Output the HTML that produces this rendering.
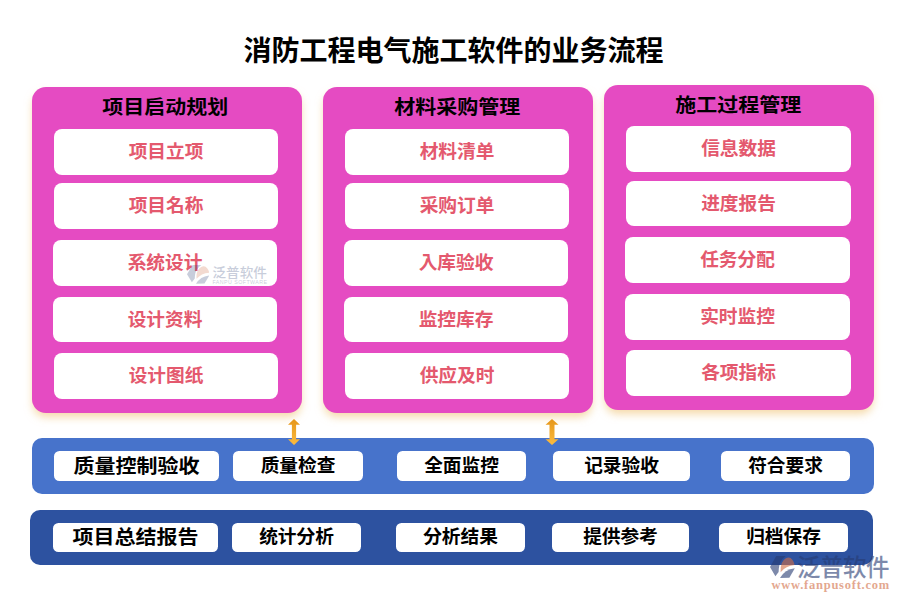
<!DOCTYPE html>
<html lang="zh-CN">
<head>
<meta charset="utf-8">
<title>消防工程电气施工软件的业务流程</title>
<style>
html,body{margin:0;padding:0;}
body{width:900px;height:600px;background:#fff;position:relative;overflow:hidden;font-family:"Liberation Sans","Noto Sans CJK JP",sans-serif;font-weight:bold;-webkit-locale:"ja";}
.abs{position:absolute;box-sizing:border-box;}
.title{left:0;width:900px;text-align:center;color:#000;white-space:nowrap;}
.panel{background:#E54BC2;border-radius:14px;box-shadow:0 5px 9px -1px rgba(238,192,110,0.6);}
.ptitle{text-align:center;color:#000;white-space:nowrap;}
.item{background:#fff;border-radius:8px;color:#E4596E;}
.rbox{background:#fff;border-radius:5.5px;color:#000;}
.t{position:absolute;left:0;right:0;text-align:center;white-space:nowrap;}
.row{border-radius:10px;}
</style>
</head>
<body>
<div class="abs title" style="top:33px;height:38px;line-height:38px;font-size:28px;left:3.5px;">消防工程电气施工软件的业务流程</div>
<div class="abs panel" style="left:32px;top:87px;width:270px;height:326px;"></div>
<div class="abs ptitle" style="left:15.3px;top:92.5px;width:300px;height:30px;line-height:30px;font-size:21px;transform:scaleY(0.91);">项目启动规划</div>
<div class="abs item" style="left:54px;top:129px;width:224px;height:46px;font-size:18.7px;"><span class="t" style="top:0px;height:46px;line-height:46px;">项目立项</span></div>
<div class="abs item" style="left:54px;top:183px;width:224px;height:46px;font-size:18.7px;"><span class="t" style="top:0px;height:46px;line-height:46px;">项目名称</span></div>
<div class="abs item" style="left:53px;top:240px;width:224px;height:46px;font-size:18.7px;"><span class="t" style="top:0px;height:46px;line-height:46px;">系统设计</span></div>
<div class="abs item" style="left:53px;top:297px;width:224px;height:45px;font-size:18.7px;"><span class="t" style="top:0px;height:45px;line-height:45px;">设计资料</span></div>
<div class="abs item" style="left:54px;top:353px;width:224px;height:46px;font-size:18.7px;"><span class="t" style="top:0px;height:46px;line-height:46px;">设计图纸</span></div>
<div class="abs panel" style="left:323px;top:87px;width:270px;height:326px;"></div>
<div class="abs ptitle" style="left:307.3px;top:92.5px;width:300px;height:30px;line-height:30px;font-size:21px;transform:scaleY(0.91);">材料采购管理</div>
<div class="abs item" style="left:345px;top:129px;width:224px;height:46px;font-size:18.7px;"><span class="t" style="top:0px;height:46px;line-height:46px;">材料清单</span></div>
<div class="abs item" style="left:345px;top:183px;width:224px;height:46px;font-size:18.7px;"><span class="t" style="top:0px;height:46px;line-height:46px;">采购订单</span></div>
<div class="abs item" style="left:344px;top:240px;width:224px;height:46px;font-size:18.7px;"><span class="t" style="top:0px;height:46px;line-height:46px;">入库验收</span></div>
<div class="abs item" style="left:344px;top:297px;width:224px;height:45px;font-size:18.7px;"><span class="t" style="top:0px;height:45px;line-height:45px;">监控库存</span></div>
<div class="abs item" style="left:345px;top:353px;width:224px;height:46px;font-size:18.7px;"><span class="t" style="top:0px;height:46px;line-height:46px;">供应及时</span></div>
<div class="abs panel" style="left:604px;top:85px;width:270px;height:325px;"></div>
<div class="abs ptitle" style="left:588.3px;top:90.5px;width:300px;height:30px;line-height:30px;font-size:21px;transform:scaleY(0.91);">施工过程管理</div>
<div class="abs item" style="left:626px;top:126px;width:225px;height:46px;font-size:18.7px;"><span class="t" style="top:0px;height:46px;line-height:46px;">信息数据</span></div>
<div class="abs item" style="left:626px;top:181px;width:225px;height:45px;font-size:18.7px;"><span class="t" style="top:0px;height:45px;line-height:45px;">进度报告</span></div>
<div class="abs item" style="left:625px;top:237px;width:225px;height:46px;font-size:18.7px;"><span class="t" style="top:0px;height:46px;line-height:46px;">任务分配</span></div>
<div class="abs item" style="left:625px;top:294px;width:225px;height:46px;font-size:18.7px;"><span class="t" style="top:0px;height:46px;line-height:46px;">实时监控</span></div>
<div class="abs item" style="left:626px;top:350px;width:225px;height:46px;font-size:18.7px;"><span class="t" style="top:0px;height:46px;line-height:46px;">各项指标</span></div>
<div class="abs row" style="left:32px;top:438px;width:842px;height:56px;background:#4773CB;"></div>
<div class="abs rbox" style="left:54px;top:451px;width:165px;height:30px;font-size:21px;"><span class="t" style="top:1px;height:30px;line-height:30px;transform:scaleY(0.91);">质量控制验收</span></div>
<div class="abs rbox" style="left:233px;top:451px;width:130px;height:30px;font-size:18.7px;"><span class="t" style="top:0px;height:30px;line-height:30px;">质量检查</span></div>
<div class="abs rbox" style="left:397px;top:451px;width:129px;height:30px;font-size:18.7px;"><span class="t" style="top:0px;height:30px;line-height:30px;">全面监控</span></div>
<div class="abs rbox" style="left:553px;top:451px;width:137px;height:30px;font-size:18.7px;"><span class="t" style="top:0px;height:30px;line-height:30px;">记录验收</span></div>
<div class="abs rbox" style="left:721px;top:451px;width:129px;height:30px;font-size:18.7px;"><span class="t" style="top:0px;height:30px;line-height:30px;">符合要求</span></div>
<div class="abs row" style="left:30px;top:510px;width:843px;height:55px;background:#2D52A0;"></div>
<div class="abs rbox" style="left:53px;top:523px;width:165px;height:29px;font-size:21px;"><span class="t" style="top:0px;height:29px;line-height:29px;transform:scaleY(0.91);">项目总结报告</span></div>
<div class="abs rbox" style="left:232px;top:523px;width:129px;height:29px;font-size:18.7px;"><span class="t" style="top:-1px;height:29px;line-height:29px;">统计分析</span></div>
<div class="abs rbox" style="left:396px;top:523px;width:129px;height:29px;font-size:18.7px;"><span class="t" style="top:-1px;height:29px;line-height:29px;">分析结果</span></div>
<div class="abs rbox" style="left:552px;top:523px;width:137px;height:29px;font-size:18.7px;"><span class="t" style="top:-1px;height:29px;line-height:29px;">提供参考</span></div>
<div class="abs rbox" style="left:719px;top:523px;width:129px;height:29px;font-size:18.7px;"><span class="t" style="top:-1px;height:29px;line-height:29px;">归档保存</span></div>
<svg class="abs" style="left:0;top:0;" width="0" height="0"><defs><linearGradient id="ag" x1="0" y1="0" x2="0" y2="1"><stop offset="0" stop-color="#E5961A"/><stop offset="1" stop-color="#FCBB3E"/></linearGradient></defs></svg>
<svg class="abs" style="left:286px;top:418px;" width="16" height="28" viewBox="0 0 16 28"><path d="M8 1 L14 6.8 H10.1 V21.2 H14 L8 27 L2 21.2 H5.9 V6.8 H2 Z" fill="url(#ag)"/></svg>
<svg class="abs" style="left:543.6px;top:418px;" width="16" height="28" viewBox="0 0 16 28"><path d="M8 1 L14.5 6.8 H10.5 V21.2 H14.5 L8 27 L1.5 21.2 H5.5 V6.8 H1.5 Z" fill="url(#ag)"/></svg>
<div class="abs" style="left:0;top:0;width:900px;height:600px;opacity:0.6;pointer-events:none;"><svg class="abs" style="left:770.2px;top:556.2px;" width="24.8" height="22" viewBox="0 0 24.8 22"><path d="M6.2,0 L15.8,0 Q9.3,4.8 8.8,12.8 L8.6,16 L5.4,20.2 L0,11 Z" fill="#283C73"/><path d="M10.6,16.3 Q9.8,5.8 15.8,2.3 Q19.8,0.3 22.3,3.8 Q24.3,6.3 24.6,9.1 Q15.8,9.8 10.6,16.3 Z" fill="#D26E46"/><path d="M10,22 Q14.8,13.3 24.8,12.2 L19.4,21.8 Z" fill="#283C73"/></svg><div class="abs" style="left:797px;top:551px;height:34px;line-height:34px;font-size:23.5px;letter-spacing:-0.5px;font-weight:500;color:#283C73;white-space:nowrap;">泛普软件</div><div class="abs" style="left:771.5px;top:576.5px;height:16px;line-height:16px;font-family:'Liberation Serif',serif;font-size:12.5px;font-weight:bold;letter-spacing:0.76px;color:#D26E46;white-space:nowrap;">www.fanpusoft.com</div></div>
<div class="abs" style="left:0;top:0;width:900px;height:600px;opacity:0.25;pointer-events:none;"><svg class="abs" style="left:186.9px;top:265.1px;" width="22.4" height="18.7" viewBox="0 0 24.8 22" preserveAspectRatio="none"><path d="M6.2,0 L15.8,0 Q9.3,4.8 8.8,12.8 L8.6,16 L5.4,20.2 L0,11 Z" fill="#283C73"/><path d="M10.6,16.3 Q9.8,5.8 15.8,2.3 Q19.8,0.3 22.3,3.8 Q24.3,6.3 24.6,9.1 Q15.8,9.8 10.6,16.3 Z" fill="#D26E46"/><path d="M10,22 Q14.8,13.3 24.8,12.2 L19.4,21.8 Z" fill="#283C73"/></svg><div class="abs" style="left:212.5px;top:262.5px;height:20px;line-height:20px;font-size:13.6px;font-weight:500;transform:scaleY(0.93);color:#283C73;white-space:nowrap;">泛普软件</div><div class="abs" style="left:212.5px;top:277.5px;height:8px;line-height:8px;font-size:5.3px;font-weight:400;letter-spacing:0.43px;color:#283C73;white-space:nowrap;">FANPU SOFTWARE</div></div>
</body>
</html>
